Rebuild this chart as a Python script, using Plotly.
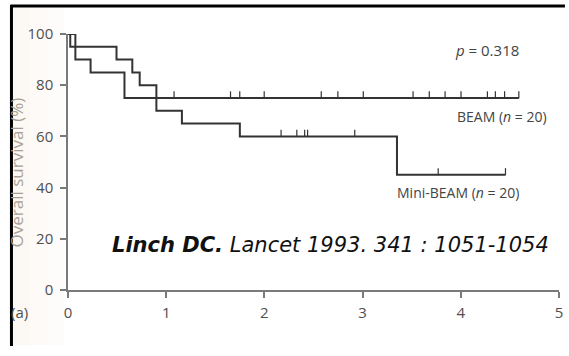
import plotly.graph_objects as go
import numpy as np

# ---- data ----
beam_times = [0, 0.075, 0.23, 0.575, 4.59]
beam_surv = [100, 90, 85, 75, 75]
beam_censor = [1.08, 1.655, 1.749, 1.998, 2.579, 2.748, 3.007, 3.514, 3.679,
               3.840, 4.002, 4.271, 4.352, 4.446, 4.591]

mini_times = [0, 0.023, 0.494, 0.655, 0.73, 0.90, 1.16, 1.75, 3.35, 4.455]
mini_surv = [100, 95, 90, 85, 80, 70, 65, 60, 45, 45]
mini_censor = [2.17, 2.33, 2.41, 2.44, 2.92, 3.77, 4.455]

x_ticks = [0, 1, 2, 3, 4, 5]
y_ticks = [0, 20, 40, 60, 80, 100]


def surv_at(times, surv, t):
    idx = np.searchsorted(np.array(times), t, side="right") - 1
    return surv[max(idx, 0)]


LINE = "#333333"
AX = "#7a7a7a"

fig = go.Figure()
for times, surv, cens in [(beam_times, beam_surv, beam_censor),
                          (mini_times, mini_surv, mini_censor)]:
    fig.add_trace(go.Scatter(x=times, y=surv, mode="lines", line_shape="hv",
                             line=dict(color=LINE, width=2), showlegend=False,
                             hoverinfo="skip"))
    cy = [surv_at(times, surv, t) for t in cens]
    fig.add_trace(go.Scatter(x=cens, y=cy, mode="markers",
                             marker=dict(size=1, color=LINE),
                             error_y=dict(type="data", symmetric=False,
                                          array=[2.6] * len(cens),
                                          arrayminus=[0] * len(cens),
                                          width=0, thickness=1.2, color=LINE),
                             showlegend=False, hoverinfo="skip"))

L, R, T, B = 68, 6, 34, 66
W, H = 569, 356
pw = W - L - R
ph = H - T - B


def px_x(p):
    return (p - L) / pw


def px_y(p):
    return (H - B - p) / ph


fig.update_layout(
    width=W, height=H,
    margin=dict(l=L, r=R, t=T, b=B),
    paper_bgcolor="white", plot_bgcolor="rgba(0,0,0,0)",
    font=dict(family="Open Sans", color="#505050"),
    xaxis=dict(range=[0, 5], tickvals=x_ticks, ticks="outside", ticklen=6,
               tickcolor=AX, tickwidth=1.5, showline=True, linecolor=AX,
               linewidth=1.5, showgrid=False, zeroline=False,
               tickfont=dict(size=15, color="#505050"), ticklabelstandoff=2),
    yaxis=dict(range=[0, 100], tickvals=y_ticks, ticks="outside", ticklen=6,
               tickcolor=AX, tickwidth=1.5, showline=True, linecolor=AX,
               linewidth=1.5, showgrid=False, zeroline=False,
               tickfont=dict(size=15, color="#505050"), ticklabelstandoff=4),
)

shapes = []
# scanned beige tint on the left, fading to the right
for x0, x1, a in [(12, 30, 0.22), (30, 48, 0.16), (48, 64, 0.09)]:
    shapes.append(dict(type="rect", xref="paper", yref="paper", x0=px_x(x0), x1=px_x(x1),
                       y0=px_y(345), y1=px_y(8), fillcolor=f"rgba(240,226,210,{a})",
                       line=dict(width=0), layer="below"))
# black frame lines
shapes += [
    dict(type="line", xref="paper", yref="paper", x0=px_x(10), x1=px_x(569),
         y0=px_y(6), y1=px_y(6), line=dict(color="black", width=3)),
    dict(type="line", xref="paper", yref="paper", x0=px_x(11), x1=px_x(11),
         y0=px_y(5), y1=px_y(346), line=dict(color="black", width=3)),
]
fig.update_layout(shapes=shapes)

ann = [
    dict(x=px_x(490), y=px_y(50), text="<i>p</i> = 0.318", font=dict(size=15, color="#444")),
    dict(x=px_x(553), y=px_y(116), text="BEAM (<i>n</i> = 20)", xanchor="right",
         font=dict(size=14, color="#444")),
    dict(x=px_x(398), y=px_y(192), text="Mini-BEAM (<i>n</i> = 20)", xanchor="left",
         font=dict(size=14, color="#444")),
    dict(x=px_x(110), y=px_y(245), xanchor="left",
         text="<b><i>Linch DC.</i></b> <i>Lancet 1993. 341 : 1051-1054</i>",
         font=dict(size=21, color="#111", family="DejaVu Sans")),
    dict(x=px_x(16), y=px_y(172), text="Overall survival (%)", textangle=-90,
         font=dict(size=17, color="#aaa196")),
    dict(x=px_x(19), y=px_y(312), text="(a)", font=dict(size=15, color="#505050")),
]
for a in ann:
    a.setdefault("xanchor", "center")
    a.update(xref="paper", yref="paper", showarrow=False, yanchor="middle")
fig.update_layout(annotations=ann)

fig.write_html("out.html")
